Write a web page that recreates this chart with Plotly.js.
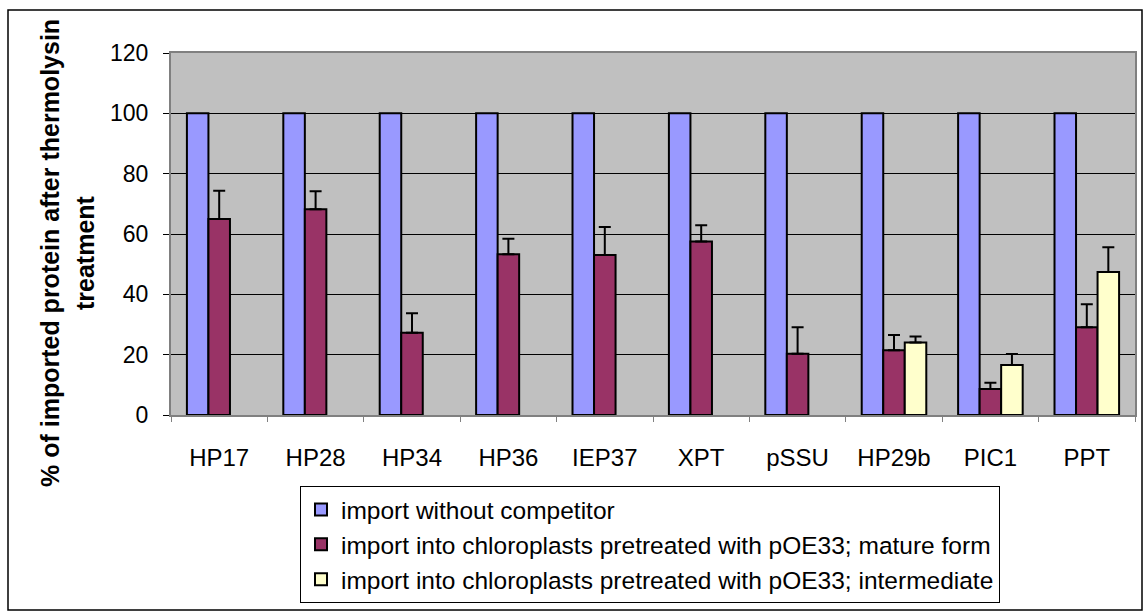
<!DOCTYPE html>
<html>
<head>
<meta charset="utf-8">
<script src="https://cdn.plot.ly/plotly-3.0.1.min.js"></script>
<style>html,body{margin:0;padding:0;background:#fff;}#chart{width:1144px;height:612px;}</style>
</head>
<body>
<div id="chart"></div>
<script>
var categories = ["HP17", "HP28", "HP34", "HP36", "IEP37", "XPT", "pSSU", "HP29b", "PIC1", "PPT"];
var withoutCompetitor = [100, 100, 100, 100, 100, 100, 100, 100, 100, 100];
var matureForm = [65.0, 68.2, 27.3, 53.3, 53.0, 57.5, 20.3, 21.5, 8.6, 29.1];
var matureErr = [9.3, 6.0, 6.4, 5.1, 9.3, 5.4, 8.8, 5.0, 2.1, 7.6];
var intermediate = [null, null, null, null, null, null, null, 24.0, 16.6, 47.4];
var intermediateErr = [0, 0, 0, 0, 0, 0, 0, 2.0, 3.6, 8.2];
var seriesNames = [
  "import without competitor",
  "import into chloroplasts pretreated with pOE33; mature form",
  "import into chloroplasts pretreated with pOE33; intermediate"
];
var yTitleLines = ["% of imported protein after thermolysin", "treatment"];

var FONT = "Liberation Sans, Arial, sans-serif";
var outline = {color: "#000", width: 2};
var zeros = categories.map(function(){return 0;});

var traces = [
  {type: "bar", x: categories, y: withoutCompetitor, name: seriesNames[0], legendgroup: "a",
   marker: {color: "#9999FF", line: outline}},
  {type: "bar", x: categories, y: matureForm, name: seriesNames[1], legendgroup: "b",
   marker: {color: "#993366", line: outline},
   error_y: {type: "data", symmetric: false, array: matureErr, arrayminus: zeros, color: "#000", thickness: 2, width: 6}},
  {type: "bar", x: categories, y: intermediate, name: seriesNames[2], legendgroup: "c",
   marker: {color: "#FFFFCC", line: outline},
   error_y: {type: "data", symmetric: false, array: intermediateErr, arrayminus: zeros, color: "#000", thickness: 2, width: 6}}
];

var L = 171, R = 9, T = 53, B = 197;
var W = 1144 - L - R, H = 612 - T - B;
function px(x){ return (x - L) / W; }
function py(y){ return (612 - B - y) / H; }

var layout = {
  width: 1144, height: 612,
  margin: {l: L, r: R, t: T, b: B, pad: 0},
  paper_bgcolor: "#fff",
  plot_bgcolor: "#C0C0C0",
  barmode: "group",
  bargap: 0.33,
  bargroupgap: 0,
  showlegend: true,
  font: {family: FONT, color: "#000", size: 22},
  xaxis: {
    type: "category", tickson: "boundaries", ticks: "outside", ticklen: 5, tickcolor: "#808080", tickwidth: 1,
    showline: true, linecolor: "#808080", linewidth: 2, mirror: true,
    showgrid: false, tickfont: {family: FONT, size: 24}, ticklabelstandoff: 20, automargin: false
  },
  yaxis: {
    range: [0, 120], dtick: 20, tick0: 0, ticks: "outside", ticklen: 6, tickcolor: "#000", tickwidth: 1,
    showline: true, linecolor: "#808080", linewidth: 2, mirror: true,
    showgrid: true, gridcolor: "#000", gridwidth: 1, zeroline: false,
    tickfont: {family: FONT, size: 23}, ticklabelstandoff: 10, automargin: false
  },
  legend: {
    x: px(300), y: py(603), xanchor: "left", yanchor: "bottom",
    bgcolor: "#fff", bordercolor: "#000", borderwidth: 1,
    font: {family: FONT, size: 24.5}, traceorder: "grouped", tracegroupgap: 0,
    itemwidth: 30
  },
  annotations: [
    {text: "<b>" + yTitleLines[0] + "</b>", xref: "paper", yref: "paper", x: px(50), y: py(253),
     xanchor: "center", yanchor: "middle", textangle: -90, showarrow: false, font: {family: FONT, size: 25}},
    {text: "<b>" + yTitleLines[1] + "</b>", xref: "paper", yref: "paper", x: px(85), y: py(253),
     xanchor: "center", yanchor: "middle", textangle: -90, showarrow: false, font: {family: FONT, size: 25}}
  ],
  shapes: [
    {type: "rect", xref: "paper", yref: "paper", x0: px(8), x1: px(1142), y0: py(610), y1: py(10),
     line: {color: "#000", width: 1.5}, fillcolor: "rgba(0,0,0,0)", layer: "below"}
  ]
};

Plotly.newPlot("chart", traces, layout, {displayModeBar: false, staticPlot: true});
</script>
</body>
</html>
